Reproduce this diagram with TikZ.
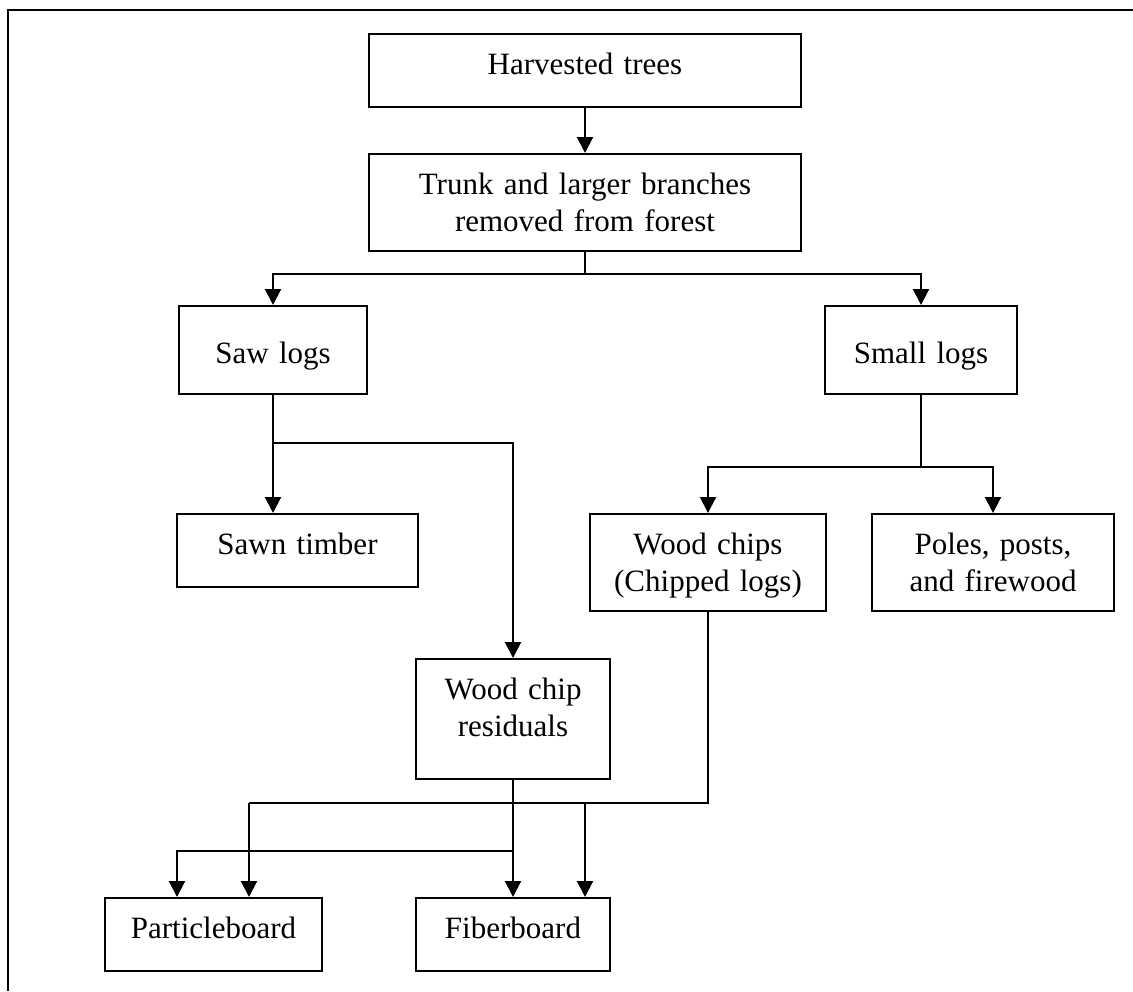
\documentclass[tikz,border=0pt]{standalone}
\usepackage{fontspec}
\setmainfont{Liberation Serif}
\usetikzlibrary{arrows.meta}
\begin{document}
\begin{tikzpicture}[x=0.5pt, y=-0.5pt,
  box/.style 2 args={draw, line width=1pt, inner sep=0pt, align=center,
    text width=#1, minimum width=#1, text height=20.25pt, text depth=#2,
    font=\fontsize{15.5}{18.5}\selectfont},
  arr/.style={line width=1pt, -{Triangle[width=8pt, length=8pt]}},
  link/.style={line width=1pt}]
  \useasboundingbox (0,0) rectangle (1133,991);
  \draw[line width=1.2pt] (8,991) -- (8,10) -- (1133,10);

  \node[box={216pt}{16.25pt}] (harvested) at (585,70.5) {Harvested trees};
  \node[box={216pt}{28.25pt}] (trunk) at (585,202.5) {Trunk and larger branches\\removed from forest};
  \node[box={94pt}{15.5pt}, text height=28.5pt] (sawlogs) at (273,350) {Saw logs};
  \node[box={96pt}{15.5pt}, text height=28.5pt] (smalllogs) at (921,350) {Small logs};
  \node[box={120.5pt}{16.25pt}] (sawn) at (297.5,550.5) {Sawn timber};
  \node[box={118pt}{28.25pt}] (chips) at (708,562.5) {Wood chips\\(Chipped logs)};
  \node[box={121pt}{28.25pt}] (poles) at (993,562.5) {Poles, posts,\\and firewood};
  \node[box={97pt}{39.75pt}] (residuals) at (513,719) {Wood chip\\residuals};
  \node[box={108.5pt}{16.25pt}] (particle) at (213.5,934.5) {Particleboard};
  \node[box={97pt}{16.25pt}] (fiber) at (513,934.5) {Fiberboard};

  \draw[arr] (harvested) -- (trunk);
  \coordinate (split1) at (585,274);
  \draw[link] (trunk) -- (split1);
  \draw[arr] (split1) -| (sawlogs);
  \draw[arr] (split1) -| (smalllogs);

  \coordinate (split2) at (273,443);
  \draw[arr] (sawlogs) -- (sawlogs.south |- sawn.north);
  \draw[arr] (split2) -| (residuals);

  \coordinate (split3) at (921,467);
  \draw[link] (smalllogs) -- (split3);
  \draw[arr] (split3) -| (chips);
  \draw[arr] (split3) -| (poles);

  \coordinate (join1) at (249,803);
  \coordinate (join2) at (585,803);
  \draw[link] (chips) |- (join1);
  \draw[arr] (join1) -- (join1 |- particle.north);
  \draw[arr] (join2) -- (join2 |- fiber.north);

  \draw[arr] (residuals) -- (fiber);
  \coordinate (split4) at (513,851);
  \coordinate (join3) at (177,851);
  \draw[arr] (split4) -- (join3) -- (join3 |- particle.north);
\end{tikzpicture}
\end{document}
